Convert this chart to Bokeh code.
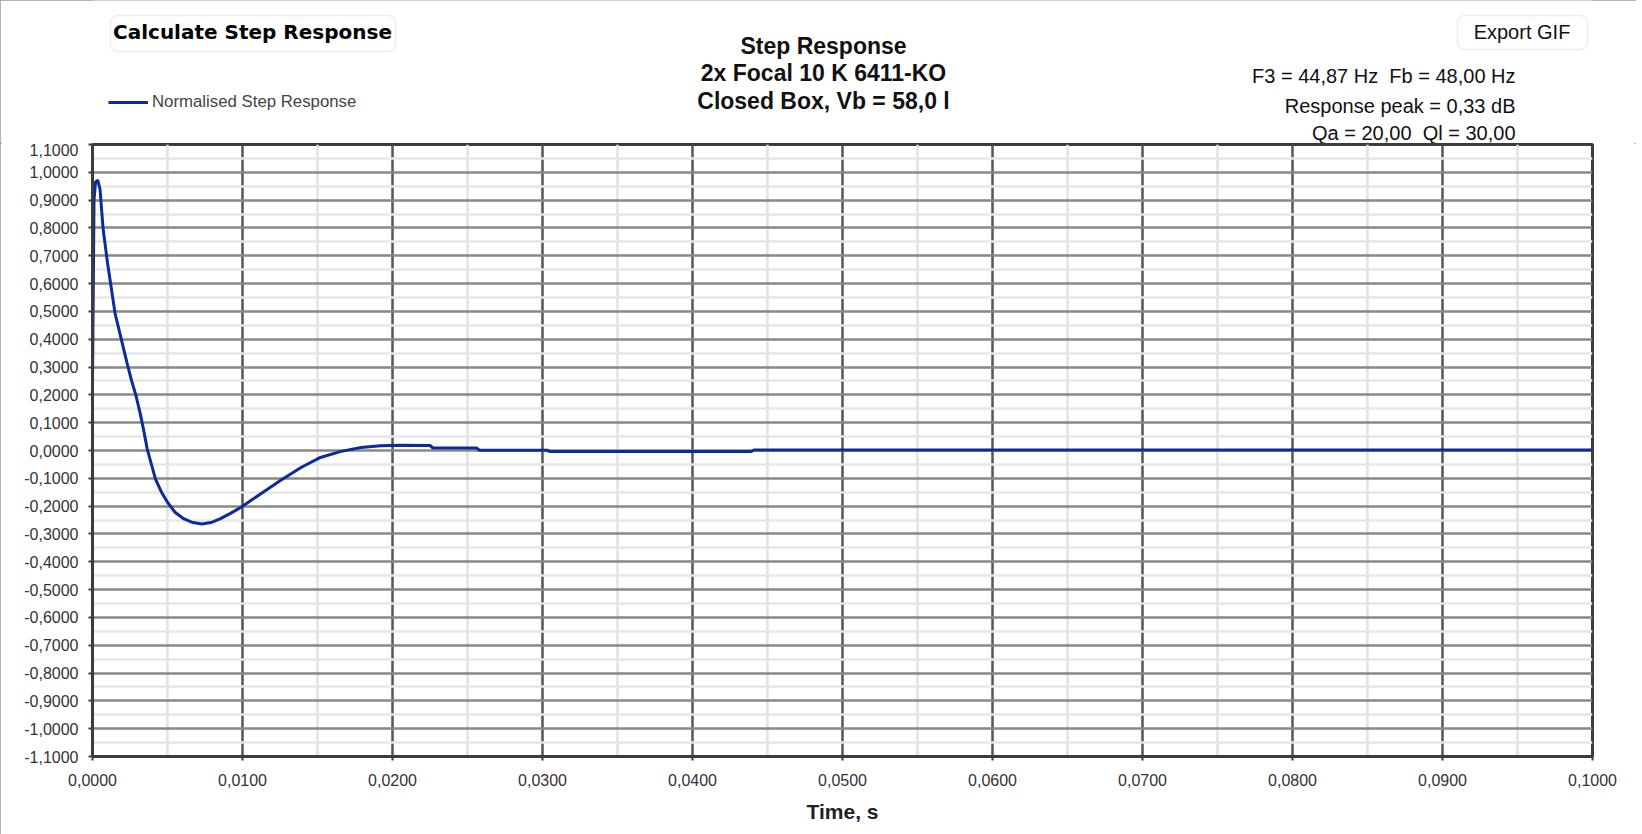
from bokeh.plotting import figure
from bokeh.layouts import column
from bokeh.models import (Range1d, FixedTicker, CustomJSTickFormatter, Label,
                          BoxAnnotation, Legend, LegendItem)
from bokeh.embed import file_html
from bokeh.resources import INLINE

# ---------------- data ----------------
time_s = [0.0, 0.0001, 0.0002, 0.00035, 0.0005, 0.0007, 0.001, 0.0015, 0.0023,
          0.0026, 0.0029, 0.0032, 0.0034, 0.00365, 0.0038, 0.0042, 0.0046,
          0.0050, 0.0055, 0.0061, 0.0067, 0.0073, 0.0079, 0.0085, 0.0092,
          0.0099, 0.0112, 0.0125, 0.0139, 0.0152, 0.0165, 0.0179, 0.0192,
          0.0205, 0.0225, 0.0227, 0.0256, 0.0258, 0.0303, 0.0305, 0.0439,
          0.0441, 0.1]
response = [0.236, 0.90, 0.965, 0.972, 0.94, 0.80, 0.675, 0.494, 0.315,
            0.252, 0.197, 0.128, 0.076, 0.005, -0.025, -0.103, -0.150,
            -0.186, -0.222, -0.246, -0.259, -0.264, -0.259, -0.246, -0.226,
            -0.204, -0.156, -0.109, -0.061, -0.025, -0.004, 0.011, 0.017,
            0.019, 0.018, 0.009, 0.009, 0.001, 0.001, -0.004, -0.004,
            0.002, 0.002]

x_ticks = [0.0, 0.01, 0.02, 0.03, 0.04, 0.05, 0.06, 0.07, 0.08, 0.09, 0.1]
x_minor = [0.005, 0.015, 0.025, 0.035, 0.045, 0.055, 0.065, 0.075, 0.085, 0.095]
y_ticks = [-1.1, -1.0, -0.9, -0.8, -0.7, -0.6, -0.5, -0.4, -0.3, -0.2, -0.1, 0.0,
           0.1, 0.2, 0.3, 0.4, 0.5, 0.6, 0.7, 0.8, 0.9, 1.0, 1.1]
y_minor = [-1.05, -0.95, -0.85, -0.75, -0.65, -0.55, -0.45, -0.35, -0.25, -0.15,
           -0.05, 0.05, 0.15, 0.25, 0.35, 0.45, 0.55, 0.65, 0.75, 0.85, 0.95, 1.05]

series_name = "Normalised Step Response"
title_lines = ["Step Response", "2x Focal 10 K 6411-KO", "Closed Box, Vb = 58,0 l"]
info_lines = ["F3 = 44,87 Hz  Fb = 48,00 Hz", "Response peak = 0,33 dB",
              "Qa = 20,00  Ql = 30,00"]
x_label = "Time, s"
button_left = "Calculate Step Response"
button_right = "Export GIF"

FONT = "Liberation Sans"
LINE_COLOR = "#0c2a98"
W = 1636
HEAD_H = 143
MAIN_H = 691
FRAME_L, FRAME_R = 92, 1592

# ---------------- header (titles, buttons, legend) ----------------
# its frame is aligned with the chart frame (x 92..1592), so x data = page px
head = figure(width=W, height=HEAD_H, x_range=Range1d(FRAME_L, FRAME_R),
              y_range=Range1d(0, HEAD_H), x_axis_location=None,
              y_axis_location=None, output_backend="svg",
              toolbar_location=None, min_border_left=FRAME_L,
              min_border_right=W - FRAME_R, min_border_top=0,
              min_border_bottom=0)
head.outline_line_color = None
head.grid.visible = False
head.background_fill_color = "white"
head.border_fill_color = "white"


def Y(top_y):
    """page pixel row (from top) -> header data y (from bottom)"""
    return HEAD_H - top_y


def sp(s):
    return s.replace("  ", " \u00a0")


for (l, rgt, t, b) in [(110, 395, 15, 51), (1457, 1587, 15, 49)]:
    head.add_layout(BoxAnnotation(left=l, right=rgt, top=Y(t), bottom=Y(b),
                                  fill_color="white", fill_alpha=1,
                                  line_color="#c4c4c4", line_width=1.5,
                                  border_radius=7))

head.add_layout(Label(x=252, y=Y(31.7), text=button_left,
                      text_font="DejaVu Sans", text_font_size="20px",
                      text_font_style="bold", text_align="center",
                      text_baseline="middle", text_color="#000000"))
head.add_layout(Label(x=1521.5, y=Y(31.7), text=button_right, text_font=FONT,
                      text_font_size="20px", text_align="center",
                      text_baseline="middle", text_color="#111111"))

for txt, yc in zip(title_lines, [45.7, 72.5, 100.5]):
    head.add_layout(Label(x=823, y=Y(yc), text=txt, text_font=FONT,
                          text_font_size="23px", text_font_style="bold",
                          text_align="center", text_baseline="middle",
                          text_color="#111111"))

for txt, yc in zip(info_lines, [75.5, 105.8, 132]):
    head.add_layout(Label(x=1515, y=Y(yc), text=sp(txt), text_font=FONT,
                          text_font_size="20px", text_align="right",
                          text_baseline="middle", text_color="#111111"))

# legend sample refers to the series; in the header its points lie outside
# the x range, so only the legend entry is visible here
legend_line = head.line(time_s, response, line_color=LINE_COLOR, line_width=3)
legend = Legend(items=[LegendItem(label=series_name, renderers=[legend_line])],
                location=(108 - FRAME_L, Y(112)), padding=0, margin=0,
                spacing=0, border_line_color=None, background_fill_alpha=0,
                glyph_width=40, glyph_height=20, label_height=20,
                label_standoff=4, label_text_font=FONT,
                label_text_font_size="16.8px", label_text_color="#444444")
head.add_layout(legend)

# ---------------- main chart ----------------
p = figure(width=W, height=MAIN_H, x_range=Range1d(0, 0.1),
           y_range=Range1d(-1.1, 1.1), output_backend="svg",
           toolbar_location=None, min_border_left=FRAME_L,
           min_border_right=W - FRAME_R, min_border_top=1,
           min_border_bottom=78)
p.background_fill_color = "white"
p.border_fill_color = "white"
p.outline_line_color = "#3c3c3c"
p.outline_line_width = 3

fmt = CustomJSTickFormatter(code="""
var v = Math.abs(tick) < 1e-9 ? 0 : tick;
return v.toFixed(4).replace('.', ',');
""")

p.xaxis.ticker = FixedTicker(ticks=x_ticks, minor_ticks=x_minor)
p.yaxis.ticker = FixedTicker(ticks=y_ticks, minor_ticks=y_minor)
for ax in (p.xaxis, p.yaxis):
    ax.formatter = fmt
    ax.major_label_text_font = FONT
    ax.major_label_text_font_size = "16px"
    ax.major_label_text_color = "#333333"
    ax.major_tick_in = 0
    ax.major_tick_out = 4
    ax.major_tick_line_color = "#3c3c3c"
    ax.major_tick_line_width = 2
    ax.minor_tick_line_color = None
    ax.axis_line_color = "#3c3c3c"
    ax.axis_line_width = 3
p.yaxis.major_label_standoff = 10
p.xaxis.major_label_standoff = 13

p.xaxis.axis_label = x_label
p.xaxis.axis_label_text_font = FONT
p.xaxis.axis_label_text_font_size = "21px"
p.xaxis.axis_label_text_font_style = "bold"
p.xaxis.axis_label_text_color = "#222222"
p.xaxis.axis_label_standoff = 11

p.xgrid.grid_line_color = "#555555"
p.xgrid.grid_line_width = 2.5
p.xgrid.minor_grid_line_color = "#e2e2e2"
p.xgrid.minor_grid_line_width = 2.5
p.ygrid.grid_line_color = "#888888"
p.ygrid.grid_line_width = 2.5
p.ygrid.minor_grid_line_color = "#e6e6e6"
p.ygrid.minor_grid_line_width = 2.5

p.line(time_s, response, line_color=LINE_COLOR, line_width=3)

page = column(head, p, spacing=0)
page.styles = {"outline": "2px solid #9a9a9a", "outline-offset": "-2px"}

open("out.html", "w").write(file_html(page, INLINE))
